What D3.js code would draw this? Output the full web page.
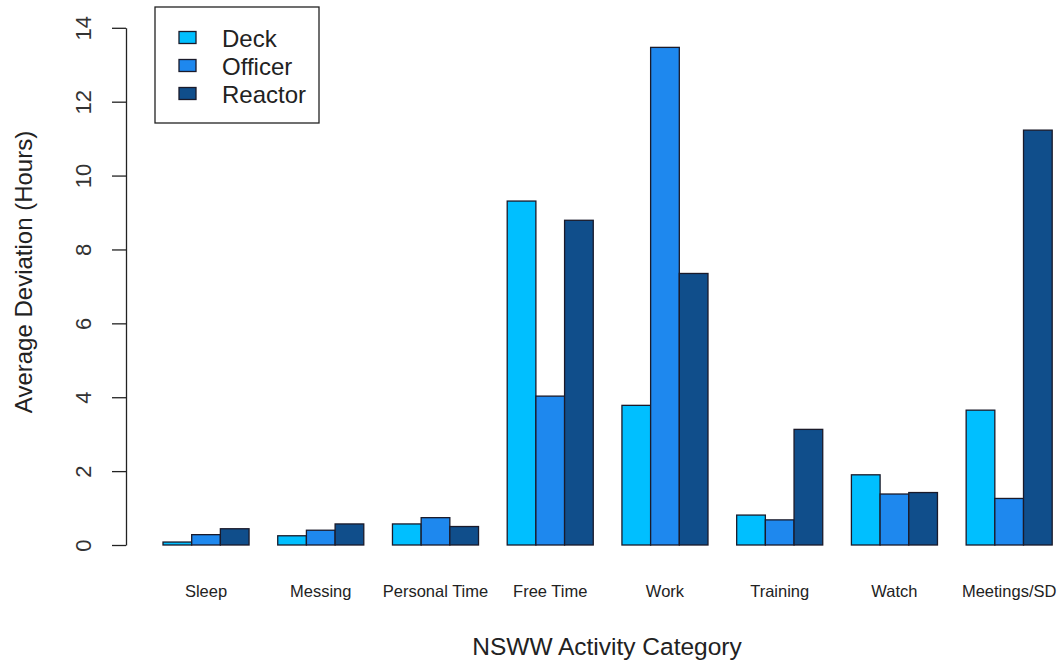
<!DOCTYPE html>
<html>
<head>
<meta charset="utf-8">
<script src="https://cdn.jsdelivr.net/npm/d3@7"></script>
<style>
  body { margin: 0; background: #fff; }
  text { font-family: "Liberation Sans", Arial, sans-serif; fill: #222; }
</style>
</head>
<body>
<svg id="chart" width="1060" height="662"></svg>
<script>
var categories = ['Sleep', 'Messing', 'Personal Time', 'Free Time', 'Work', 'Training', 'Watch', 'Meetings/SD']
var groups = ['Deck', 'Officer', 'Reactor']
var deckValues = [0.08, 0.25, 0.57, 9.31, 3.78, 0.81, 1.90, 3.65]
var officerValues = [0.28, 0.40, 0.74, 4.03, 13.47, 0.68, 1.38, 1.26]
var reactorValues = [0.44, 0.57, 0.50, 8.79, 7.35, 3.13, 1.42, 11.23]
var groupColors = ['#00BFFF', '#1E88EE', '#104E8B']
var yTicks = [0, 2, 4, 6, 8, 10, 12, 14]

var series = [deckValues, officerValues, reactorValues]
var svg = d3.select('#chart')

var x0 = d3.scaleBand()
    .domain(categories)
    .range([163, 1052.2])
    .paddingInner(0.25)
    .paddingOuter(0)
var x1 = d3.scaleBand()
    .domain(groups)
    .range([0, x0.bandwidth()])
var y = d3.scaleLinear()
    .domain([0, 14])
    .range([545, 27.8])

// bars
var cat = svg.append('g')
    .selectAll('g')
    .data(categories)
    .enter()
    .append('g')
    .attr('transform', d => 'translate(' + x0(d) + ',0)')
cat.selectAll('rect')
    .data(function (d, ci) {
        return groups.map((g, gi) => ({ g: g, gi: gi, v: series[gi][ci] }))
    })
    .enter()
    .append('rect')
    .attr('x', d => x1(d.g))
    .attr('width', x1.bandwidth())
    .attr('y', d => y(d.v))
    .attr('height', d => y(0) - y(d.v))
    .attr('fill', d => groupColors[d.gi])
    .attr('stroke', '#1a1a2a')
    .attr('stroke-width', 1.3)

// y axis
var yAxis = svg.append('g')
    .attr('transform', 'translate(126,0)')
    .call(d3.axisLeft(y).tickValues(yTicks).tickSize(14).tickPadding(8).tickSizeOuter(0))
yAxis.select('.domain').attr('stroke', '#222').attr('stroke-width', 1.3)
yAxis.selectAll('.tick line').attr('stroke', '#222').attr('stroke-width', 1.3)
yAxis.selectAll('.tick text')
    .attr('font-size', 22)
    .attr('x', 0)
    .attr('dy', 0)
    .attr('text-anchor', 'middle')
    .attr('transform', 'translate(-35.5,0) rotate(-90)')
    .style('fill', '#333')

// x labels
svg.append('g')
    .selectAll('text')
    .data(categories)
    .enter()
    .append('text')
    .attr('x', d => x0(d) + x0.bandwidth() / 2)
    .attr('y', 597)
    .attr('text-anchor', 'middle')
    .attr('font-size', 16.5)
    .text(d => d)

// axis titles
svg.append('text')
    .attr('x', 607)
    .attr('y', 655)
    .attr('text-anchor', 'middle')
    .attr('font-size', 24.5)
    .text('NSWW Activity Category')
svg.append('text')
    .attr('transform', 'translate(32,272) rotate(-90)')
    .attr('text-anchor', 'middle')
    .attr('font-size', 24)
    .text('Average Deviation (Hours)')

// legend
svg.append('rect')
    .attr('x', 155).attr('y', 7)
    .attr('width', 164).attr('height', 116)
    .attr('fill', 'none')
    .attr('stroke', '#222')
    .attr('stroke-width', 1.3)
var items = svg.append('g')
    .selectAll('g')
    .data(groups)
    .enter()
    .append('g')
    .attr('transform', (d, i) => 'translate(179,' + (31.5 + i * 28) + ')')
items.append('rect')
    .attr('width', 17).attr('height', 12)
    .attr('fill', (d, i) => groupColors[i])
    .attr('stroke', '#1a1a2a')
    .attr('stroke-width', 1.3)
items.append('text')
    .attr('x', 43)
    .attr('y', 15)
    .attr('font-size', 24)
    .text(d => d)
</script>
</body>
</html>
